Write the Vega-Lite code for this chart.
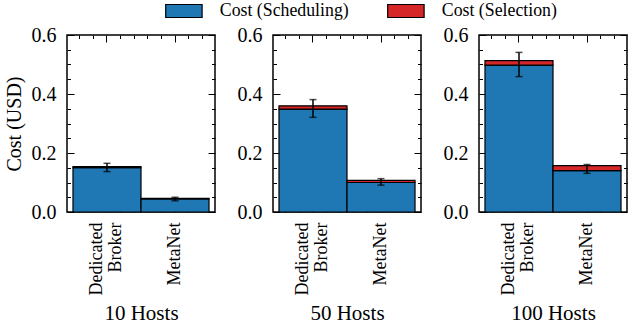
{
  "$schema": "https://vega.github.io/schema/vega-lite/v6.json",
  "padding": {"left": 3, "top": 2, "right": 2, "bottom": 0},
  "data": {"values": [
    {"hosts": "10 Hosts", "method": "Dedicated Broker", "Cost (Scheduling)": 0.150, "Cost (Selection)": 0.004, "mean": 0.151, "err": 0.014},
    {"hosts": "10 Hosts", "method": "MetaNet", "Cost (Scheduling)": 0.044, "Cost (Selection)": 0.002, "mean": 0.044, "err": 0.006},
    {"hosts": "50 Hosts", "method": "Dedicated Broker", "Cost (Scheduling)": 0.349, "Cost (Selection)": 0.011, "mean": 0.351, "err": 0.030},
    {"hosts": "50 Hosts", "method": "MetaNet", "Cost (Scheduling)": 0.100, "Cost (Selection)": 0.007, "mean": 0.102, "err": 0.011},
    {"hosts": "100 Hosts", "method": "Dedicated Broker", "Cost (Scheduling)": 0.498, "Cost (Selection)": 0.015, "mean": 0.500, "err": 0.041},
    {"hosts": "100 Hosts", "method": "MetaNet", "Cost (Scheduling)": 0.140, "Cost (Selection)": 0.017, "mean": 0.146, "err": 0.015}
  ]},
  "spacing": 19,
  "resolve": {"scale": {"color": "shared"}, "legend": {"color": "shared"}},
  "hconcat": [
    {
      "width": 148, "height": 177,
      "transform": [{"filter": "datum.hosts == '10 Hosts'"}],
      "resolve": {"axis": {"x": "independent", "y": "independent"}},
      "layer": [
        {"transform": [{"fold": ["Cost (Scheduling)", "Cost (Selection)"], "as": ["component", "cost"]}],
         "mark": {"type": "bar", "stroke": "black", "strokeWidth": 1.2},
         "encoding": {
           "x": {"field": "method", "type": "nominal", "sort": null, "scale": {"type": "band"}, "axis": {"orient": "bottom", "labels": true, "tickSize": -7, "labelAngle": -90, "labelPadding": 17, "labelFontSize": 18, "labelLineHeight": 19, "labelOffset": {"condition": {"test": "datum.value == 'Dedicated Broker'", "value": -9.5}, "value": 0}, "labelExpr": "datum.value == 'Dedicated Broker' ? ['Dedicated', 'Broker'] : datum.label", "title": "10 Hosts"}},
           "y": {"field": "cost", "type": "quantitative", "stack": "zero", "scale": {"domain": [0, 0.6], "nice": false}, "axis": {"orient": "left", "labels": true, "values": [0, 0.2, 0.4, 0.6], "format": ".1f", "tickSize": -7, "labelPadding": 18, "labelFontSize": 20, "title": "Cost (USD)", "titleFontSize": 20, "titlePadding": 7}},
           "color": {"field": "component", "type": "nominal", "scale": {"domain": ["Cost (Scheduling)", "Cost (Selection)"], "range": ["#1f77b4", "#d62728"]}, "legend": {"orient": "none", "legendX": 108, "legendY": -33, "direction": "horizontal", "title": null}},
           "order": {"field": "component", "sort": "ascending"}
         }},
        {"mark": {"type": "errorbar", "color": "black", "thickness": 1.5, "ticks": {"size": 7, "thickness": 1.5}},
         "encoding": {
           "x": {"field": "method", "type": "nominal", "sort": null, "scale": {"type": "band"}, "axis": {"orient": "top", "tickSize": -7, "title": null}},
           "y": {"field": "mean", "type": "quantitative", "scale": {"domain": [0, 0.6], "nice": false}, "axis": {"orient": "right", "values": [0, 0.2, 0.4, 0.6], "tickSize": -7, "title": null}},
           "yError": {"field": "err"}
         }},
        {"mark": {"type": "bar", "opacity": 0}, "encoding": {
           "x": {"field": "method", "type": "nominal", "sort": null, "scale": {"type": "band"}, "axis": {"orient": "bottom", "bandPosition": 0.1, "tickSize": -3.5, "title": null}},
           "y": {"field": "mean", "type": "quantitative", "scale": {"domain": [0, 0.6], "nice": false}, "axis": {"orient": "left", "values": [0.05, 0.1, 0.15, 0.25, 0.3, 0.35, 0.45, 0.5, 0.55], "tickSize": -3.5, "title": null}}}},
        {"mark": {"type": "bar", "opacity": 0}, "encoding": {
           "x": {"field": "method", "type": "nominal", "sort": null, "scale": {"type": "band"}, "axis": {"orient": "bottom", "bandPosition": 0.3, "tickSize": -3.5, "title": null}},
           "y": {"field": "mean", "type": "quantitative", "scale": {"domain": [0, 0.6], "nice": false}, "axis": {"orient": "right", "values": [0.05, 0.1, 0.15, 0.25, 0.3, 0.35, 0.45, 0.5, 0.55], "tickSize": -3.5, "title": null}}}},
        {"mark": {"type": "bar", "opacity": 0}, "encoding": {
           "x": {"field": "method", "type": "nominal", "sort": null, "scale": {"type": "band"}, "axis": {"orient": "bottom", "bandPosition": 0.7, "tickSize": -3.5, "title": null}},
           "y": {"field": "mean", "type": "quantitative", "scale": {"domain": [0, 0.6], "nice": false}, "axis": null}}},
        {"mark": {"type": "bar", "opacity": 0}, "encoding": {
           "x": {"field": "method", "type": "nominal", "sort": null, "scale": {"type": "band"}, "axis": {"orient": "bottom", "bandPosition": 0.9, "tickSize": -3.5, "title": null}},
           "y": {"field": "mean", "type": "quantitative", "scale": {"domain": [0, 0.6], "nice": false}, "axis": null}}},
        {"mark": {"type": "bar", "opacity": 0}, "encoding": {
           "x": {"field": "method", "type": "nominal", "sort": null, "scale": {"type": "band"}, "axis": {"orient": "top", "bandPosition": 0.1, "tickSize": -3.5, "title": null}},
           "y": {"field": "mean", "type": "quantitative", "scale": {"domain": [0, 0.6], "nice": false}, "axis": null}}},
        {"mark": {"type": "bar", "opacity": 0}, "encoding": {
           "x": {"field": "method", "type": "nominal", "sort": null, "scale": {"type": "band"}, "axis": {"orient": "top", "bandPosition": 0.3, "tickSize": -3.5, "title": null}},
           "y": {"field": "mean", "type": "quantitative", "scale": {"domain": [0, 0.6], "nice": false}, "axis": null}}},
        {"mark": {"type": "bar", "opacity": 0}, "encoding": {
           "x": {"field": "method", "type": "nominal", "sort": null, "scale": {"type": "band"}, "axis": {"orient": "top", "bandPosition": 0.7, "tickSize": -3.5, "title": null}},
           "y": {"field": "mean", "type": "quantitative", "scale": {"domain": [0, 0.6], "nice": false}, "axis": null}}},
        {"mark": {"type": "bar", "opacity": 0}, "encoding": {
           "x": {"field": "method", "type": "nominal", "sort": null, "scale": {"type": "band"}, "axis": {"orient": "top", "bandPosition": 0.9, "tickSize": -3.5, "title": null}},
           "y": {"field": "mean", "type": "quantitative", "scale": {"domain": [0, 0.6], "nice": false}, "axis": null}}}
      ]
    },
    {
      "width": 148, "height": 177,
      "transform": [{"filter": "datum.hosts == '50 Hosts'"}],
      "resolve": {"axis": {"x": "independent", "y": "independent"}},
      "layer": [
        {"transform": [{"fold": ["Cost (Scheduling)", "Cost (Selection)"], "as": ["component", "cost"]}],
         "mark": {"type": "bar", "stroke": "black", "strokeWidth": 1.2},
         "encoding": {
           "x": {"field": "method", "type": "nominal", "sort": null, "scale": {"type": "band"}, "axis": {"orient": "bottom", "labels": true, "tickSize": -7, "labelAngle": -90, "labelPadding": 17, "labelFontSize": 18, "labelLineHeight": 19, "labelOffset": {"condition": {"test": "datum.value == 'Dedicated Broker'", "value": -9.5}, "value": 0}, "labelExpr": "datum.value == 'Dedicated Broker' ? ['Dedicated', 'Broker'] : datum.label", "title": "50 Hosts"}},
           "y": {"field": "cost", "type": "quantitative", "stack": "zero", "scale": {"domain": [0, 0.6], "nice": false}, "axis": {"orient": "left", "labels": true, "values": [0, 0.2, 0.4, 0.6], "format": ".1f", "tickSize": -7, "labelPadding": 18, "labelFontSize": 20, "title": null}},
           "color": {"field": "component", "type": "nominal", "scale": {"domain": ["Cost (Scheduling)", "Cost (Selection)"], "range": ["#1f77b4", "#d62728"]}, "legend": {"orient": "none", "legendX": 108, "legendY": -33, "direction": "horizontal", "title": null}},
           "order": {"field": "component", "sort": "ascending"}
         }},
        {"mark": {"type": "errorbar", "color": "black", "thickness": 1.5, "ticks": {"size": 7, "thickness": 1.5}},
         "encoding": {
           "x": {"field": "method", "type": "nominal", "sort": null, "scale": {"type": "band"}, "axis": {"orient": "top", "tickSize": -7, "title": null}},
           "y": {"field": "mean", "type": "quantitative", "scale": {"domain": [0, 0.6], "nice": false}, "axis": {"orient": "right", "values": [0, 0.2, 0.4, 0.6], "tickSize": -7, "title": null}},
           "yError": {"field": "err"}
         }},
        {"mark": {"type": "bar", "opacity": 0}, "encoding": {
           "x": {"field": "method", "type": "nominal", "sort": null, "scale": {"type": "band"}, "axis": {"orient": "bottom", "bandPosition": 0.1, "tickSize": -3.5, "title": null}},
           "y": {"field": "mean", "type": "quantitative", "scale": {"domain": [0, 0.6], "nice": false}, "axis": {"orient": "left", "values": [0.05, 0.1, 0.15, 0.25, 0.3, 0.35, 0.45, 0.5, 0.55], "tickSize": -3.5, "title": null}}}},
        {"mark": {"type": "bar", "opacity": 0}, "encoding": {
           "x": {"field": "method", "type": "nominal", "sort": null, "scale": {"type": "band"}, "axis": {"orient": "bottom", "bandPosition": 0.3, "tickSize": -3.5, "title": null}},
           "y": {"field": "mean", "type": "quantitative", "scale": {"domain": [0, 0.6], "nice": false}, "axis": {"orient": "right", "values": [0.05, 0.1, 0.15, 0.25, 0.3, 0.35, 0.45, 0.5, 0.55], "tickSize": -3.5, "title": null}}}},
        {"mark": {"type": "bar", "opacity": 0}, "encoding": {
           "x": {"field": "method", "type": "nominal", "sort": null, "scale": {"type": "band"}, "axis": {"orient": "bottom", "bandPosition": 0.7, "tickSize": -3.5, "title": null}},
           "y": {"field": "mean", "type": "quantitative", "scale": {"domain": [0, 0.6], "nice": false}, "axis": null}}},
        {"mark": {"type": "bar", "opacity": 0}, "encoding": {
           "x": {"field": "method", "type": "nominal", "sort": null, "scale": {"type": "band"}, "axis": {"orient": "bottom", "bandPosition": 0.9, "tickSize": -3.5, "title": null}},
           "y": {"field": "mean", "type": "quantitative", "scale": {"domain": [0, 0.6], "nice": false}, "axis": null}}},
        {"mark": {"type": "bar", "opacity": 0}, "encoding": {
           "x": {"field": "method", "type": "nominal", "sort": null, "scale": {"type": "band"}, "axis": {"orient": "top", "bandPosition": 0.1, "tickSize": -3.5, "title": null}},
           "y": {"field": "mean", "type": "quantitative", "scale": {"domain": [0, 0.6], "nice": false}, "axis": null}}},
        {"mark": {"type": "bar", "opacity": 0}, "encoding": {
           "x": {"field": "method", "type": "nominal", "sort": null, "scale": {"type": "band"}, "axis": {"orient": "top", "bandPosition": 0.3, "tickSize": -3.5, "title": null}},
           "y": {"field": "mean", "type": "quantitative", "scale": {"domain": [0, 0.6], "nice": false}, "axis": null}}},
        {"mark": {"type": "bar", "opacity": 0}, "encoding": {
           "x": {"field": "method", "type": "nominal", "sort": null, "scale": {"type": "band"}, "axis": {"orient": "top", "bandPosition": 0.7, "tickSize": -3.5, "title": null}},
           "y": {"field": "mean", "type": "quantitative", "scale": {"domain": [0, 0.6], "nice": false}, "axis": null}}},
        {"mark": {"type": "bar", "opacity": 0}, "encoding": {
           "x": {"field": "method", "type": "nominal", "sort": null, "scale": {"type": "band"}, "axis": {"orient": "top", "bandPosition": 0.9, "tickSize": -3.5, "title": null}},
           "y": {"field": "mean", "type": "quantitative", "scale": {"domain": [0, 0.6], "nice": false}, "axis": null}}}
      ]
    },
    {
      "width": 148, "height": 177,
      "transform": [{"filter": "datum.hosts == '100 Hosts'"}],
      "resolve": {"axis": {"x": "independent", "y": "independent"}},
      "layer": [
        {"transform": [{"fold": ["Cost (Scheduling)", "Cost (Selection)"], "as": ["component", "cost"]}],
         "mark": {"type": "bar", "stroke": "black", "strokeWidth": 1.2},
         "encoding": {
           "x": {"field": "method", "type": "nominal", "sort": null, "scale": {"type": "band"}, "axis": {"orient": "bottom", "labels": true, "tickSize": -7, "labelAngle": -90, "labelPadding": 17, "labelFontSize": 18, "labelLineHeight": 19, "labelOffset": {"condition": {"test": "datum.value == 'Dedicated Broker'", "value": -9.5}, "value": 0}, "labelExpr": "datum.value == 'Dedicated Broker' ? ['Dedicated', 'Broker'] : datum.label", "title": "100 Hosts"}},
           "y": {"field": "cost", "type": "quantitative", "stack": "zero", "scale": {"domain": [0, 0.6], "nice": false}, "axis": {"orient": "left", "labels": true, "values": [0, 0.2, 0.4, 0.6], "format": ".1f", "tickSize": -7, "labelPadding": 18, "labelFontSize": 20, "title": null}},
           "color": {"field": "component", "type": "nominal", "scale": {"domain": ["Cost (Scheduling)", "Cost (Selection)"], "range": ["#1f77b4", "#d62728"]}, "legend": {"orient": "none", "legendX": 108, "legendY": -33, "direction": "horizontal", "title": null}},
           "order": {"field": "component", "sort": "ascending"}
         }},
        {"mark": {"type": "errorbar", "color": "black", "thickness": 1.5, "ticks": {"size": 7, "thickness": 1.5}},
         "encoding": {
           "x": {"field": "method", "type": "nominal", "sort": null, "scale": {"type": "band"}, "axis": {"orient": "top", "tickSize": -7, "title": null}},
           "y": {"field": "mean", "type": "quantitative", "scale": {"domain": [0, 0.6], "nice": false}, "axis": {"orient": "right", "values": [0, 0.2, 0.4, 0.6], "tickSize": -7, "title": null}},
           "yError": {"field": "err"}
         }},
        {"mark": {"type": "bar", "opacity": 0}, "encoding": {
           "x": {"field": "method", "type": "nominal", "sort": null, "scale": {"type": "band"}, "axis": {"orient": "bottom", "bandPosition": 0.1, "tickSize": -3.5, "title": null}},
           "y": {"field": "mean", "type": "quantitative", "scale": {"domain": [0, 0.6], "nice": false}, "axis": {"orient": "left", "values": [0.05, 0.1, 0.15, 0.25, 0.3, 0.35, 0.45, 0.5, 0.55], "tickSize": -3.5, "title": null}}}},
        {"mark": {"type": "bar", "opacity": 0}, "encoding": {
           "x": {"field": "method", "type": "nominal", "sort": null, "scale": {"type": "band"}, "axis": {"orient": "bottom", "bandPosition": 0.3, "tickSize": -3.5, "title": null}},
           "y": {"field": "mean", "type": "quantitative", "scale": {"domain": [0, 0.6], "nice": false}, "axis": {"orient": "right", "values": [0.05, 0.1, 0.15, 0.25, 0.3, 0.35, 0.45, 0.5, 0.55], "tickSize": -3.5, "title": null}}}},
        {"mark": {"type": "bar", "opacity": 0}, "encoding": {
           "x": {"field": "method", "type": "nominal", "sort": null, "scale": {"type": "band"}, "axis": {"orient": "bottom", "bandPosition": 0.7, "tickSize": -3.5, "title": null}},
           "y": {"field": "mean", "type": "quantitative", "scale": {"domain": [0, 0.6], "nice": false}, "axis": null}}},
        {"mark": {"type": "bar", "opacity": 0}, "encoding": {
           "x": {"field": "method", "type": "nominal", "sort": null, "scale": {"type": "band"}, "axis": {"orient": "bottom", "bandPosition": 0.9, "tickSize": -3.5, "title": null}},
           "y": {"field": "mean", "type": "quantitative", "scale": {"domain": [0, 0.6], "nice": false}, "axis": null}}},
        {"mark": {"type": "bar", "opacity": 0}, "encoding": {
           "x": {"field": "method", "type": "nominal", "sort": null, "scale": {"type": "band"}, "axis": {"orient": "top", "bandPosition": 0.1, "tickSize": -3.5, "title": null}},
           "y": {"field": "mean", "type": "quantitative", "scale": {"domain": [0, 0.6], "nice": false}, "axis": null}}},
        {"mark": {"type": "bar", "opacity": 0}, "encoding": {
           "x": {"field": "method", "type": "nominal", "sort": null, "scale": {"type": "band"}, "axis": {"orient": "top", "bandPosition": 0.3, "tickSize": -3.5, "title": null}},
           "y": {"field": "mean", "type": "quantitative", "scale": {"domain": [0, 0.6], "nice": false}, "axis": null}}},
        {"mark": {"type": "bar", "opacity": 0}, "encoding": {
           "x": {"field": "method", "type": "nominal", "sort": null, "scale": {"type": "band"}, "axis": {"orient": "top", "bandPosition": 0.7, "tickSize": -3.5, "title": null}},
           "y": {"field": "mean", "type": "quantitative", "scale": {"domain": [0, 0.6], "nice": false}, "axis": null}}},
        {"mark": {"type": "bar", "opacity": 0}, "encoding": {
           "x": {"field": "method", "type": "nominal", "sort": null, "scale": {"type": "band"}, "axis": {"orient": "top", "bandPosition": 0.9, "tickSize": -3.5, "title": null}},
           "y": {"field": "mean", "type": "quantitative", "scale": {"domain": [0, 0.6], "nice": false}, "axis": null}}}
      ]
    }
  ],
  "config": {
    "font": "Liberation Serif",
    "view": {"stroke": "black", "strokeWidth": 1.5},
    "scale": {"bandPaddingInner": 0, "bandPaddingOuter": 0.088},
    "axis": {"domain": false, "grid": false, "labels": false, "ticks": true, "tickColor": "black", "tickWidth": 1, "labelFont": "Liberation Serif", "labelFontSize": 19, "labelColor": "black", "titleFont": "Liberation Serif", "titleFontSize": 21, "titleFontWeight": "normal", "titleColor": "black", "titlePadding": 8},
    "legend": {"symbolType": "M-2.8,-1H2.8V1H-2.8Z", "symbolSize": 169, "symbolStrokeColor": "black", "symbolStrokeWidth": 1.2, "symbolOpacity": 1, "labelFont": "Liberation Serif", "labelFontSize": 17.8, "labelColor": "black", "labelOffset": 27, "columnPadding": 36}
  }
}
